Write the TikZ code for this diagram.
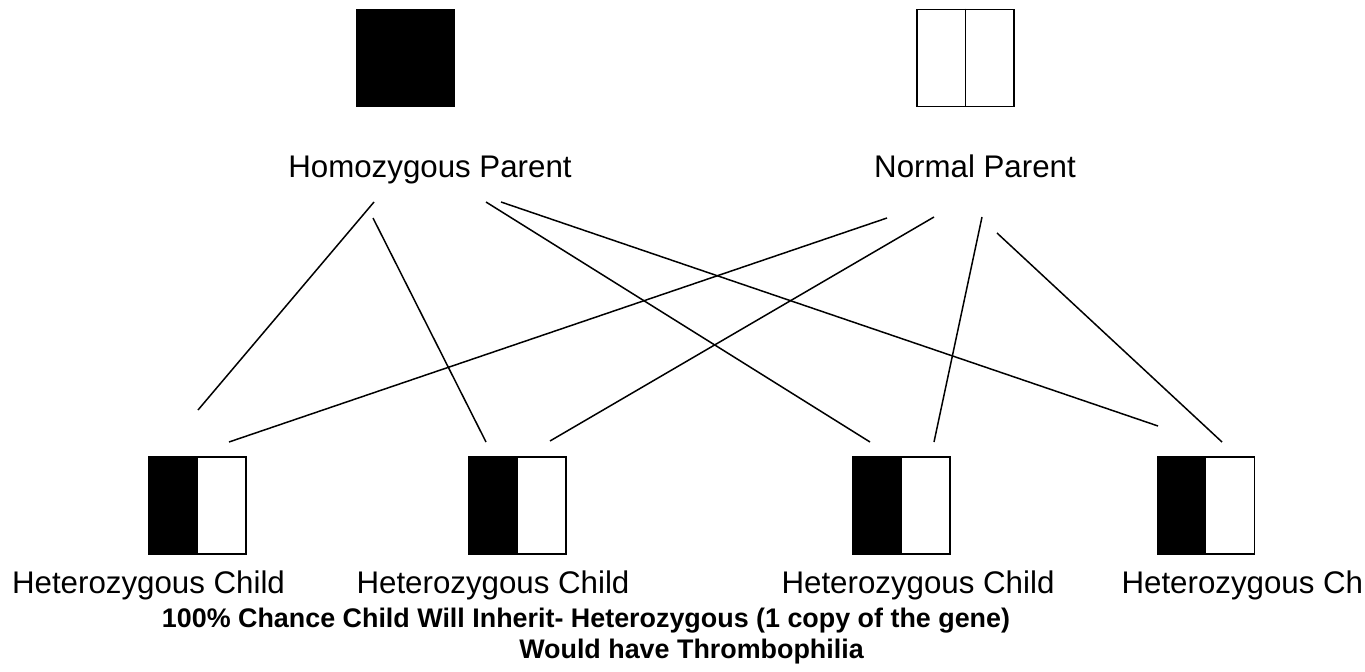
\documentclass[tikz,border=0pt]{standalone}
\usepackage{fontspec}
\setmainfont{Liberation Sans}
\usepackage{tikz}
\usetikzlibrary{positioning}

\begin{document}
\begin{tikzpicture}[x=0.02cm, y=-0.02cm,
    box/.style={draw, line width=1.1pt, minimum width=1.94cm, minimum height=1.94cm, inner sep=0pt},
    lbl/.style={anchor=base, inner sep=0pt, font=\fontsize{17.8pt}{21pt}\selectfont},
    note/.style={anchor=base, inner sep=0pt, font=\fontsize{15.3pt}{18pt}\selectfont\bfseries},
    link/.style={line width=0.85pt}]
  \useasboundingbox (0,0) rectangle (1365,672);
  % parents
  \node[box, fill=black] (homo) at (405.5,58) {};
  \node[box] (norm) at (965.5,58) {};
  \draw[line width=1.1pt] (norm.north) -- (norm.south);
  \node[lbl] (homolbl) at (430,178) {Homozygous Parent};
  \node[lbl] (normlbl) at (975,178) {Normal Parent};
  % children
  \foreach \n/\x in {1/197.5, 2/517.5, 3/901.5, 4/1206}{
    \node[box] (het\n) at (\x,505.5) {};
    \fill (het\n.north west) rectangle (het\n.south);
  }
  \node[lbl] (hetlbl1) at (148.5,593) {Heterozygous Child};
  \node[lbl] (hetlbl2) at (493,593) {Heterozygous Child};
  \node[lbl] (hetlbl3) at (918,593) {Heterozygous Child};
  \node[lbl] (hetlbl4) at (1258,593) {Heterozygous Child};
  \node[note] (chance) at (586,627) {100\% Chance Child Will Inherit- Heterozygous (1 copy of the gene)};
  \node[note] (thromb) at (691.5,658) {Would have Thrombophilia};
  % line ends
  \coordinate (homoA) at (374,202);  \coordinate (het1A) at (198,410);
  \coordinate (homoB) at (373,218);  \coordinate (het2A) at (486,442);
  \coordinate (homoC) at (486,202);  \coordinate (het3A) at (870,442);
  \coordinate (homoD) at (501,202);  \coordinate (het4A) at (1158,426);
  \coordinate (normA) at (887,218);  \coordinate (het1B) at (229,442);
  \coordinate (normB) at (934,217);  \coordinate (het2B) at (550,441);
  \coordinate (normC) at (982,217);  \coordinate (het3B) at (934,442);
  \coordinate (normD) at (997,233);  \coordinate (het4B) at (1222,442);
  \foreach \p/\c in {homoA/het1A, homoB/het2A, homoC/het3A, homoD/het4A,
                     normA/het1B, normB/het2B, normC/het3B, normD/het4B}
    \draw[link] (\p) -- (\c);
\end{tikzpicture}
\end{document}
